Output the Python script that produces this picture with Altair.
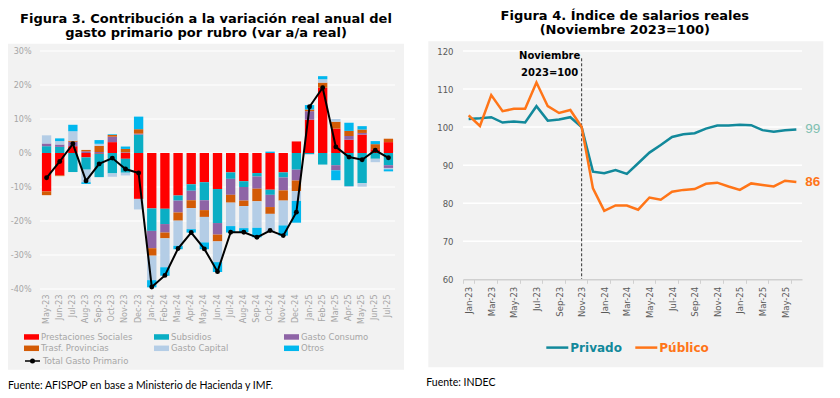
import altair as alt
import pandas as pd

# ---------------- Figura 3 data (contribución, p.p.) ----------------
meses_g3 = ["May-23", "Jun-23", "Jul-23", "Aug-23", "Sep-23", "Oct-23", "Nov-23", "Dec-23",
            "Jan-24", "Feb-24", "Mar-24", "Apr-24", "May-24", "Jun-24", "Jul-24", "Aug-24",
            "Sep-24", "Oct-24", "Nov-24", "Dec-24", "Jan-25", "Feb-25", "Mar-25", "Apr-25",
            "May-25", "Jun-25", "Jul-25"]
rubros = ["Prestaciones Sociales", "Subsidios", "Gasto Consumo",
          "Trasf. Provincias", "Gasto Capital", "Otros"]
colores_rubros = ["#ff0000", "#0aaec4", "#8e64a6", "#d35b06", "#b4cde6", "#00b7ee"]
# legend is laid out column by column (2 rows x 3 columns)
orden_leyenda = [0, 3, 1, 4, 2, 5]

prestaciones = [-11.3, -6.6, 2.0, -1.3, -0.2, 3.2, -1.7, -13.5, -16.3, -16.4, -12.5, -9.2, -8.6,
                -10.6, -5.7, -8.3, -5.9, -10.8, -5.7, 3.4, 9.8, 19.2, 7.2, 3.9, 5.4, 1.1, 3.2]
subsidios = [2.0, 1.8, -5.6, -3.6, -6.9, -6.0, -4.1, 5.4, -6.6, -4.5, -1.5, -1.9, -5.3,
             -10.0, -1.9, -1.7, -1.0, -1.5, -1.5, -4.9, -0.3, -3.4, -3.6, -9.7, -8.9, -1.7, -3.6]
consumo = [0.8, 0.7, 1.3, 0.5, 0.3, 1.6, 0.2, 0.3, -5.1, -2.5, -3.5, -2.8, -2.9,
           -3.4, -4.7, -4.0, -3.6, -3.6, -3.8, -3.2, 2.5, 0.0, -1.5, 1.1, 0.5, 0.0, -0.8]
provincias = [-1.1, -0.2, 0.3, 0.4, 1.8, 0.5, 1.0, 1.3, -2.2, -1.7, -2.4, -2.3, -2.0,
              -2.0, -2.3, -1.6, -3.7, -2.0, -3.0, -3.1, 0.5, 1.5, 2.0, 1.5, 1.0, 1.5, 1.0]
capital = [2.4, 1.0, 2.8, -3.7, 0.6, -1.0, -0.8, -3.1, -7.2, -8.5, -7.4, -6.2, -7.5,
           -6.1, -6.9, -6.5, -7.8, -5.3, -7.3, -2.9, -0.2, 1.0, 0.8, -0.3, -1.0, -1.0, -0.4]
otros = [0.0, 0.8, 1.9, -0.5, 1.1, 0.2, 0.7, 3.7, -2.1, -2.5, -1.0, -1.0, -2.0,
         -2.9, -1.9, -1.2, -2.8, 0.4, -3.0, -6.4, 1.3, 0.9, -2.9, 2.4, 1.0, 0.9, -0.6]
total_gasto = [-7.3, -2.5, 2.7, -8.2, -3.2, -1.5, -4.7, -5.9, -39.4, -36.0, -28.1, -23.4, -28.2,
               -34.9, -23.3, -23.3, -24.8, -22.8, -24.3, -17.4, 13.6, 19.2, 1.8, -1.2, -2.0, 0.8, -1.4]
serie_total = "Total Gasto Primario"
ticks_g3 = [-40, -30, -20, -10, 0, 10, 20, 30]

titulo_g3 = ["Figura 3. Contribución a la variación real anual del",
             "gasto primario por rubro (var a/a real)"]
fuente_g3 = "Fuente: AFISPOP en base a Ministerio de Hacienda y IMF."

# ---------------- Figura 4 data (índice salarios reales) ----------------
meses_g4 = ["Jan-23", "Feb-23", "Mar-23", "Apr-23", "May-23", "Jun-23", "Jul-23", "Aug-23",
            "Sep-23", "Oct-23", "Nov-23", "Dec-23", "Jan-24", "Feb-24", "Mar-24", "Apr-24",
            "May-24", "Jun-24", "Jul-24", "Aug-24", "Sep-24", "Oct-24", "Nov-24", "Dec-24",
            "Jan-25", "Feb-25", "Mar-25", "Apr-25", "May-25", "Jun-25"]
privado = [102.1, 102.3, 102.6, 101.2, 101.5, 101.2, 105.5, 101.7, 102.0, 102.6, 100.0, 88.3,
           87.9, 88.7, 87.7, 90.5, 93.3, 95.3, 97.4, 98.1, 98.4, 99.6, 100.4, 100.4,
           100.6, 100.5, 99.2, 98.8, 99.2, 99.4]
publico = [103.1, 100.3, 108.4, 104.2, 104.8, 104.8, 111.7, 105.5, 103.7, 104.5, 100.0, 83.9,
           78.0, 79.4, 79.4, 78.3, 81.5, 80.9, 83.0, 83.5, 83.7, 85.1, 85.4, 84.4,
           83.5, 85.2, 84.8, 84.4, 85.9, 85.6]
series_g4 = ["Privado", "Público"]
colores_g4 = ["#12899b", "#ff7518"]
colores_etiquetas = ["#7fbfb1", "#ff7518"]
ticks_g4 = [60, 70, 80, 90, 100, 110, 120]
mes_base = "Nov-23"
nota_base = ["Noviembre", "2023=100"]
titulo_g4 = ["Figura 4. Índice de salarios reales", "(Noviembre 2023=100)"]
fuente_g4 = "Fuente: INDEC"

FONT = "DejaVu Sans"
SRC_FONT = "Lato"
BG = "#f2f2f2"

# ---------------- Figura 3 ----------------
W1, H1 = 355, 238
valores = [prestaciones, subsidios, consumo, provincias, capital, otros]
filas = []
for j, (r, vals) in enumerate(zip(rubros, valores)):
    for m, v in zip(meses_g3, vals):
        filas.append({"mes": m, "rubro": r, "valor": v, "orden": j})
df_bars = pd.DataFrame(filas)
df_tot = pd.DataFrame({"mes": meses_g3, "total": total_gasto, "serie": serie_total})
df_grid1 = pd.DataFrame({"v": ticks_g3})
one = pd.DataFrame({"k": [0]})

dom_leg = [rubros[i] for i in orden_leyenda]
rng_leg = [colores_rubros[i] for i in orden_leyenda]

yscale1 = alt.Scale(domain=[-40, 30], nice=False)
yaxis1 = alt.Axis(title=None, values=ticks_g3, labelExpr="datum.value + '%'",
                  labelFontSize=8, labelColor="#a6a6a6", labelFont=FONT, ticks=False,
                  domain=False, grid=False, labelPadding=9, zindex=1)
xenc1 = alt.X("mes:N", sort=meses_g3,
              scale=alt.Scale(paddingInner=0.29, paddingOuter=0.145),
              axis=alt.Axis(title=None, labelAngle=270, labelFontSize=8, labelColor="#a6a6a6",
                            labelFont=FONT, ticks=False, domain=False, grid=False,
                            labelPadding=5, zindex=1))

bg1 = alt.Chart(one).mark_rect(fill=BG).encode(
    x=alt.value(-32), x2=alt.value(W1 + 9), y=alt.value(-7.3), y2=alt.value(H1 + 80.7))
grid1 = alt.Chart(df_grid1).mark_rule(color="white", strokeWidth=1.2).encode(
    y=alt.Y("v:Q", scale=yscale1, axis=yaxis1))
bars = alt.Chart(df_bars).mark_bar().encode(
    x=xenc1,
    y=alt.Y("valor:Q", scale=yscale1, axis=yaxis1, stack="zero"),
    color=alt.Color("rubro:N", scale=alt.Scale(domain=dom_leg, range=rng_leg),
                    legend=alt.Legend(title=None, orient="none", legendX=-13.5, legendY=280.7,
                                      columns=3, gridAlign="all", columnPadding=21,
                                      rowPadding=1.6, symbolType="M-1.5,-0.55H1.5V0.55H-1.5Z",
                                      symbolSize=100, symbolStrokeWidth=0, labelOffset=4.5,
                                      labelFont=FONT, labelFontSize=8.5, labelColor="#a6a6a6",
                                      padding=0)),
    order=alt.Order("orden:Q", sort="ascending"),
)
line1 = alt.Chart(df_tot).mark_line(strokeWidth=2).encode(
    x=xenc1,
    y=alt.Y("total:Q", scale=yscale1, axis=yaxis1),
    stroke=alt.Stroke("serie:N", scale=alt.Scale(domain=[serie_total], range=["black"]),
                      legend=alt.Legend(title=None, orient="none", legendX=-13.5, legendY=304,
                                        symbolType="M-1.5,0H1.5M-0.35,0A0.35,0.35,0,1,1,0.35,0A0.35,0.35,0,1,1,-0.35,0",
                                        symbolSize=100, symbolStrokeWidth=1.5,
                                        symbolFillColor="black", labelOffset=4.5,
                                        labelFont=FONT, labelFontSize=8.5, labelColor="#a6a6a6",
                                        padding=0)),
)
pts1 = alt.Chart(df_tot).mark_circle(color="black", size=24, opacity=1).encode(
    x=xenc1, y=alt.Y("total:Q", scale=yscale1, axis=yaxis1))
src1 = alt.Chart(one).mark_text(text=fuente_g3, align="left", baseline="middle",
                                font=SRC_FONT, fontSize=10.5, color="black").encode(
    x=alt.value(-32), y=alt.value(334.7))

left = alt.layer(bg1, grid1, bars, line1, pts1, src1).properties(
    width=W1, height=H1,
    title=alt.TitleParams(text=titulo_g3, anchor="middle", frame="bounds", font=FONT,
                          fontSize=13, fontWeight="bold", color="black", lineHeight=14,
                          offset=4),
).resolve_scale(color="independent", stroke="independent")

# ---------------- Figura 4 ----------------
W2, H2 = 339, 228.3
filas4 = []
for s, vals in zip(series_g4, [privado, publico]):
    for m, v in zip(meses_g4, vals):
        filas4.append({"mes": m, "serie": s, "valor": v})
df_l = pd.DataFrame(filas4)
df_grid2 = pd.DataFrame({"v": ticks_g4[1:]})
df_end = pd.DataFrame({"mes": [meses_g4[-1]] * 2, "serie": series_g4,
                       "valor": [privado[-1], publico[-1]],
                       "etiqueta": [f"{privado[-1]:.0f}", f"{publico[-1]:.0f}"]})
df_base = pd.DataFrame({"mes": [mes_base]})

yscale2 = alt.Scale(domain=[60, 120], nice=False)
yaxis2 = alt.Axis(title=None, values=ticks_g4, labelFontSize=8.5, labelColor="#595959",
                  labelFont=FONT, ticks=False, domain=False, grid=False, labelPadding=10,
                  zindex=1)
xenc2 = alt.X("mes:N", sort=meses_g4, bandPosition=0.5,
              scale=alt.Scale(type="band", paddingInner=0, paddingOuter=0),
              axis=alt.Axis(title=None, values=meses_g4[::2], labelAngle=270, labelFontSize=8.5,
                            labelColor="#595959", labelFont=FONT, tickBand="extent",
                            tickExtra=False, ticks=True, tickSize=4, tickColor="#d0d0d0",
                            domain=True, domainColor="#d0d0d0", domainWidth=1.5,
                            grid=False, labelPadding=3, zindex=1))

bg2 = alt.Chart(one).mark_rect(fill=BG).encode(
    x=alt.value(-34.7), x2=alt.value(W2 + 21.3), y=alt.value(-9.7), y2=alt.value(H2 + 88))
grid2 = alt.Chart(df_grid2).mark_rule(color="white", strokeWidth=1.5).encode(
    y=alt.Y("v:Q", scale=yscale2, axis=yaxis2))
base_rule = alt.Chart(df_base).mark_rule(color="#333333", strokeWidth=1, strokeDash=[3, 2]).encode(
    x=xenc2, y=alt.value(7.3), y2=alt.value(H2))
nota1 = alt.Chart(df_base).mark_text(text=nota_base[0], fontWeight="bold", fontSize=10,
                                     font=FONT, color="black", dx=-32, baseline="middle").encode(
    x=xenc2, y=alt.value(5))
nota2 = alt.Chart(df_base).mark_text(text=nota_base[1], fontWeight="bold", fontSize=10,
                                     font=FONT, color="black", dx=-32, baseline="middle").encode(
    x=xenc2, y=alt.value(21.6))
lines2 = alt.Chart(df_l).mark_line(strokeWidth=2.5).encode(
    x=xenc2, y=alt.Y("valor:Q", scale=yscale2, axis=yaxis2),
    color=alt.Color("serie:N", scale=alt.Scale(domain=series_g4, range=colores_g4), legend=None))
end_priv = alt.Chart(df_end).transform_filter(alt.datum.serie == series_g4[0]).mark_text(
    align="left", baseline="middle", dx=9, fontSize=13.5, font="Liberation Sans",
    fontWeight="normal", color=colores_etiquetas[0]).encode(
    x=xenc2, y=alt.Y("valor:Q", scale=yscale2, axis=yaxis2), text="etiqueta:N")
end_pub = alt.Chart(df_end).transform_filter(alt.datum.serie == series_g4[1]).mark_text(
    align="left", baseline="middle", dx=9, fontSize=13.5, font="Liberation Sans",
    fontWeight="bold", color=colores_etiquetas[1]).encode(
    x=xenc2, y=alt.Y("valor:Q", scale=yscale2, axis=yaxis2), text="etiqueta:N")

leg_y = 296.6
leg_priv_line = alt.Chart(one).mark_rule(color=colores_g4[0], strokeWidth=2.5).encode(
    x=alt.value(83.3), x2=alt.value(105.3), y=alt.value(leg_y))
leg_priv_txt = alt.Chart(one).mark_text(text=series_g4[0], align="left", baseline="middle",
                                        font=FONT, fontSize=12, fontWeight="bold",
                                        color=colores_g4[0]).encode(
    x=alt.value(107.3), y=alt.value(leg_y))
leg_pub_line = alt.Chart(one).mark_rule(color=colores_g4[1], strokeWidth=2.5).encode(
    x=alt.value(172.3), x2=alt.value(194.3), y=alt.value(leg_y))
leg_pub_txt = alt.Chart(one).mark_text(text=series_g4[1], align="left", baseline="middle",
                                       font=FONT, fontSize=12, fontWeight="bold",
                                       color=colores_g4[1]).encode(
    x=alt.value(196.3), y=alt.value(leg_y))
src2 = alt.Chart(one).mark_text(text=fuente_g4, align="left", baseline="middle",
                                font=SRC_FONT, fontSize=10.5, color="black").encode(
    x=alt.value(-36.7), y=alt.value(332.3))

right = alt.layer(bg2, grid2, base_rule, nota1, nota2, lines2, end_priv, end_pub,
                  leg_priv_line, leg_priv_txt, leg_pub_line, leg_pub_txt, src2).properties(
    width=W2, height=H2,
    title=alt.TitleParams(text=titulo_g4, anchor="middle", frame="bounds", font=FONT,
                          fontSize=13, fontWeight="bold", color="black", lineHeight=14,
                          offset=4),
)

chart = alt.hconcat(left, right, spacing=22).properties(
    padding={"left": 0, "top": 2, "right": 0, "bottom": 0},
    background="white",
).configure_view(stroke=None)

chart.save("out.html", embed_options={"renderer": "svg", "actions": False})
